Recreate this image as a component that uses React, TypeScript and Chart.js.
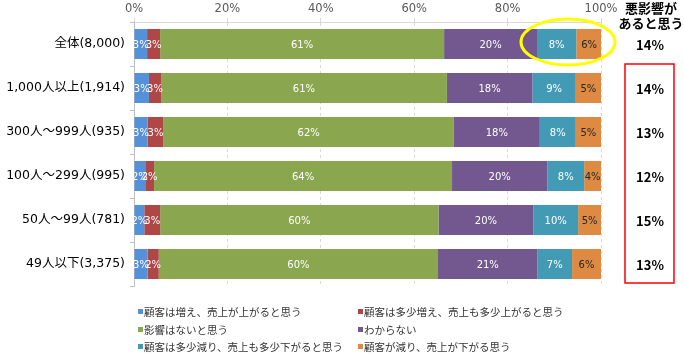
import React, { useEffect, useRef } from "react";
import { Chart, registerables } from "chart.js";

Chart.register(...registerables);

const categories = [
  "全体(8,000)",
  "1,000人以上(1,914)",
  "300人～999人(935)",
  "100人～299人(995)",
  "50人～99人(781)",
  "49人以下(3,375)",
];

const seriesNames = [
  "顧客は増え、売上が上がると思う",
  "顧客は多少増え、売上も多少上がると思う",
  "影響はないと思う",
  "わからない",
  "顧客は多少減り、売上も多少下がると思う",
  "顧客が減り、売上が下がる思う",
];

const increase = [2.8, 3.2, 2.9, 2.4, 2.2, 2.9];
const slightIncrease = [2.8, 2.6, 3.4, 1.9, 3.4, 2.4];
const noEffect = [60.8, 61.2, 62.2, 63.8, 59.6, 59.8];
const unknown = [19.9, 18.3, 18.4, 20.4, 20.3, 21.3];
const slightDecrease = [8.4, 9.3, 7.7, 7.9, 9.6, 7.4];
const decrease = [5.5, 5.4, 5.4, 3.6, 4.9, 6.2];

const negativeLabels = ["14%", "14%", "13%", "12%", "15%", "13%"];
const xTicks = [0, 20, 40, 60, 80, 100];

const colors = ["#5591d8", "#b04747", "#8aa64f", "#73588f", "#429ab5", "#de8a43"];
const labelColors = ["#ffffff", "#ffffff", "#ffffff", "#ffffff", "#ffffff", "#262626"];

const FONT = "'Noto Sans CJK JP', 'Noto Sans', sans-serif";
const WIDE = "'DejaVu Sans', 'Noto Sans CJK JP', sans-serif";

export default function App() {
  const ref = useRef<HTMLCanvasElement>(null);

  useEffect(() => {
    if (!ref.current) return;
    const seriesData = [increase, slightIncrease, noEffect, unknown, slightDecrease, decrease];

    const labelPlugin = {
      id: "barLabels",
      afterDatasetsDraw(chart: any) {
        const ctx = chart.ctx;
        ctx.save();
        ctx.font = `10px ${WIDE}`;
        ctx.textAlign = "center";
        ctx.textBaseline = "middle";
        chart.data.datasets.forEach((ds: any, di: number) => {
          const meta = chart.getDatasetMeta(di);
          meta.data.forEach((bar: any, i: number) => {
            const v = ds.data[i];
            const cx = (bar.x + bar.base) / 2;
            ctx.fillStyle = labelColors[di];
            ctx.fillText(Math.round(v) + "%", cx, bar.y + 1);
          });
        });
        ctx.restore();
      },
    };

    const extrasPlugin = {
      id: "extras",
      afterDraw(chart: any) {
        const ctx = chart.ctx;
        const yScale = chart.scales.y;
        ctx.save();
        ctx.fillStyle = "#000000";
        ctx.font = `bold 13px ${FONT}`;
        ctx.textAlign = "center";
        ctx.textBaseline = "middle";
        ctx.fillText("悪影響が", 651, 8);
        ctx.fillText("あると思う", 651, 23);
        negativeLabels.forEach((t, i) => {
          const y = yScale.getPixelForValue(i);
          ctx.fillText(t, 650, y + 1);
        });
        ctx.strokeStyle = "#ff0000";
        ctx.lineWidth = 1.5;
        ctx.strokeRect(625, 64, 49, 219);
        ctx.strokeStyle = "#ffff00";
        ctx.lineWidth = 3;
        ctx.beginPath();
        ctx.ellipse(568, 42, 47, 23, 0, 0, Math.PI * 2);
        ctx.stroke();
        ctx.font = `10.5px ${FONT}`;
        ctx.textAlign = "left";
        ctx.textBaseline = "middle";
        const cols = [138, 358];
        const rows = [312, 330, 347];
        seriesNames.forEach((name, i) => {
          const x = cols[i % 2];
          const y = rows[Math.floor(i / 2)];
          ctx.fillStyle = colors[i];
          ctx.fillRect(x, y - 3, 5, 5);
          ctx.fillStyle = "#333333";
          ctx.fillText(name, x + 6, y);
        });
        ctx.restore();
      },
    };

    const chart = new Chart(ref.current, {
      type: "bar",
      data: {
        labels: categories,
        datasets: seriesNames.map((name, i) => ({
          label: name,
          data: seriesData[i],
          backgroundColor: colors[i],
          borderWidth: 0,
          categoryPercentage: 1,
          barPercentage: 30 / 44,
        })),
      },
      options: {
        indexAxis: "y",
        responsive: false,
        animation: false,
        layout: { padding: { left: 0, right: 83, top: 0, bottom: 68 } },
        plugins: {
          legend: { display: false },
          tooltip: { enabled: false },
        },
        scales: {
          x: {
            position: "top",
            stacked: true,
            min: 0,
            max: 100,
            afterBuildTicks: (scale: any) => {
              scale.ticks = xTicks.map((v) => ({ value: v }));
            },
            afterFit: (scale: any) => {
              scale.height = 22;
            },
            ticks: {
              callback: (v: any) => v + "%",
              color: "#595959",
              font: { family: WIDE, size: 11.5 },
              padding: 2,
              maxRotation: 0,
            },
            grid: {
              color: "#d9d9d9",
              tickLength: 4,
              lineWidth: 1,
            },
            border: { display: true, color: "#d9d9d9", dash: [3, 3] },
          },
          y: {
            stacked: true,
            afterFit: (scale: any) => {
              scale.width = 134;
            },
            ticks: {
              color: "#000000",
              font: { family: WIDE, size: 12.5 },
              padding: 5,
            },
            grid: {
              display: true,
              drawOnChartArea: false,
              drawTicks: true,
              tickLength: 4,
              offset: true,
              color: "#bfbfbf",
            },
            border: { display: true, color: "#bfbfbf" },
          },
        },
      },
      plugins: [labelPlugin, extrasPlugin],
    } as any);

    return () => chart.destroy();
  }, []);

  return (
    <div style={{ position: "absolute", left: 0, top: 0, width: 684, height: 354, background: "#ffffff" }}>
      <canvas ref={ref} width={684} height={354} />
    </div>
  );
}
